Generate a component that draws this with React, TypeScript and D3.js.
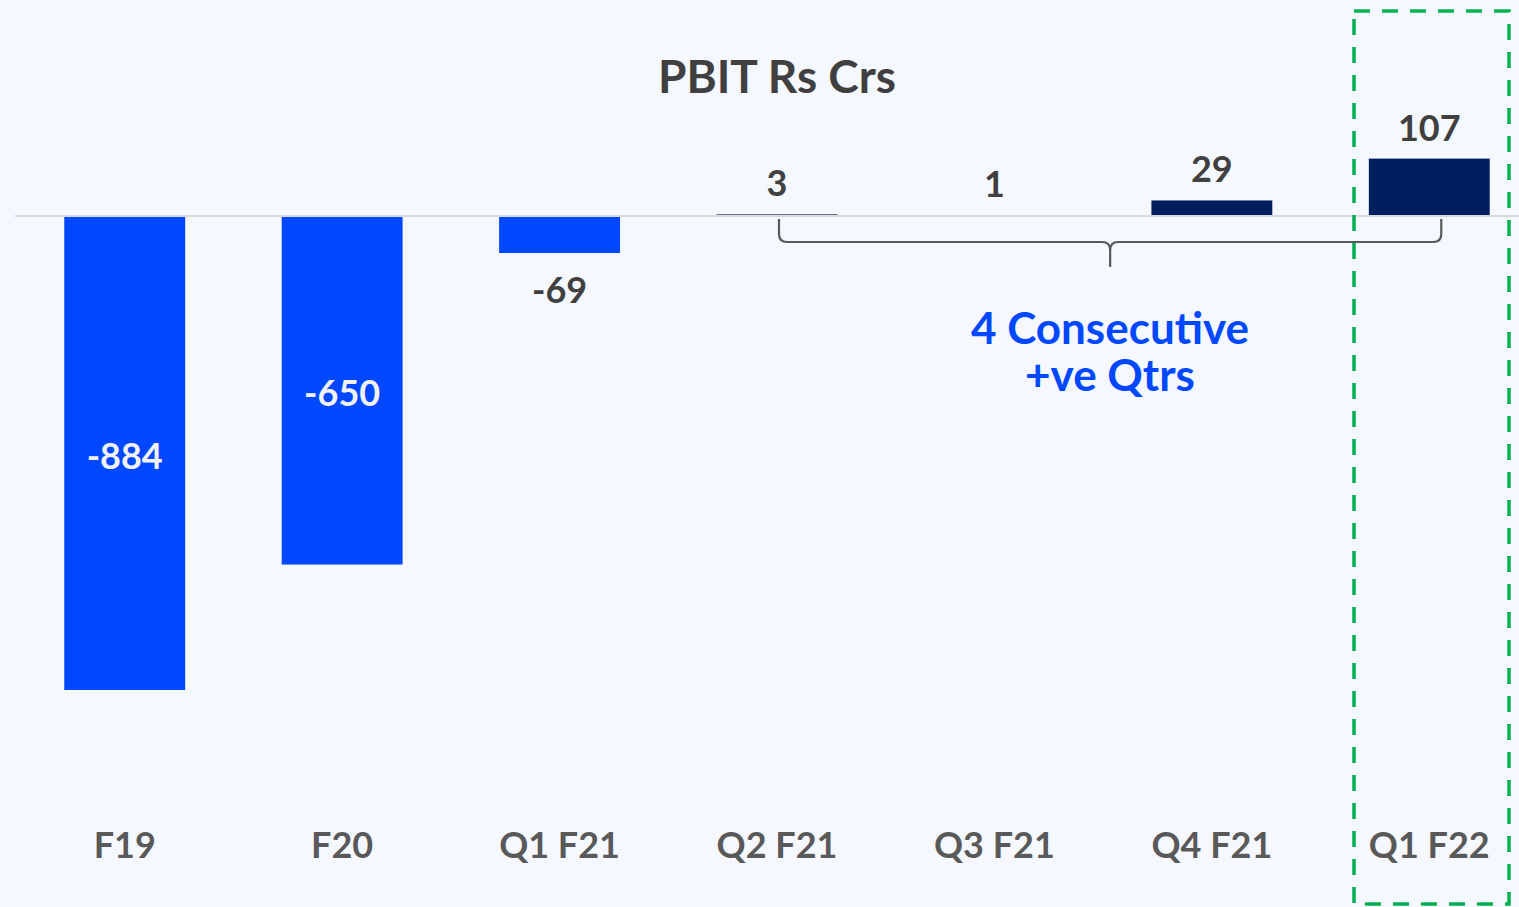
import React from "react";
import * as d3 from "d3";

const categories = ["F19", "F20", "Q1 F21", "Q2 F21", "Q3 F21", "Q4 F21", "Q1 F22"];
const values = [-884, -650, -69, 3, 1, 29, 107];
const title = "PBIT Rs Crs";
const annotation = ["4 Consecutive", "+ve Qtrs"];

const W = 1519;
const H = 907;
const FONT = "'Lato', 'DejaVu Sans', sans-serif";

export default function App() {
  const x = d3.scaleBand<string>().domain(categories).range([16, 1538]).paddingInner(0.444).paddingOuter(0.222);
  const y = d3.scaleLinear().domain([0, -884]).range([216, 690]);
  const bw = x.bandwidth();
  const cx = (c: string) => (x(c) as number) + bw / 2;

  // bracket spanning Q2 F21 .. Q1 F22
  const bx0 = cx("Q2 F21") + 2;
  const bx1 = cx("Q1 F22") + 12;
  const bTop = 219;
  const bMid = 242;
  const bTip = 267;
  const bc = (bx0 + bx1) / 2;
  const r = 8;
  const bracket = `M${bx0},${bTop} L${bx0},${bMid - r} Q${bx0},${bMid} ${bx0 + r},${bMid} L${bc - r},${bMid} Q${bc},${bMid} ${bc},${bMid + r} L${bc},${bTip} M${bc},${bMid + r} Q${bc},${bMid} ${bc + r},${bMid} L${bx1 - r},${bMid} Q${bx1},${bMid} ${bx1},${bMid - r} L${bx1},${bTop}`;

  return (
    <svg width={W} height={H} style={{ position: "absolute", left: 0, top: 0, display: "block" }}>
      <rect x={0} y={0} width={W} height={H} fill="#F5F8FE" />
      <text x={777} y={93} textAnchor="middle" fontFamily={FONT} fontWeight={700} fontSize={46} fill="#404040">
        {title}
      </text>
      {values.map((v, i) => {
        const c = categories[i];
        const top = v >= 0 ? y(v) : y(0);
        const h = Math.abs(y(v) - y(0));
        return (
          <rect key={c} x={x(c)} y={top} width={bw} height={h} fill={v < 0 ? "#0048FF" : "#001F5F"} />
        );
      })}
      <line x1={15} x2={W} y1={216} y2={216} stroke="#D9D9D9" strokeWidth={2} />
      {values.map((v, i) => {
        const c = categories[i];
        let ly: number;
        let fill = "#404040";
        if (v < -300) {
          ly = (y(0) + y(v)) / 2 + 13;
          fill = "#F2F2F2";
          if (c === "F19") ly = 469;
          if (c === "F20") ly = 406;
        } else if (v < 0) {
          ly = y(v) + 50;
        } else {
          ly = y(v) - 18;
        }
        return (
          <text key={c} x={cx(c)} y={ly} textAnchor="middle" fontFamily={FONT} fontWeight={700} fontSize={36} fill={fill}>
            {v}
          </text>
        );
      })}
      {categories.map((c) => (
        <text key={c} x={cx(c)} y={858} textAnchor="middle" fontFamily={FONT} fontWeight={700} fontSize={36} fill="#595959">
          {c}
        </text>
      ))}
      <path d={bracket} fill="none" stroke="#595959" strokeWidth={2.2} />
      <text textAnchor="middle" fontFamily={FONT} fontWeight={700} fontSize={44} fill="#0048FF">
        <tspan x={1110} y={344}>{annotation[0]}</tspan>
        <tspan x={1110} y={391}>{annotation[1]}</tspan>
      </text>
      <rect x={1354} y={11} width={155} height={893} fill="none" stroke="#00B050" strokeWidth={3.5} strokeDasharray="16 12" />
    </svg>
  );
}
